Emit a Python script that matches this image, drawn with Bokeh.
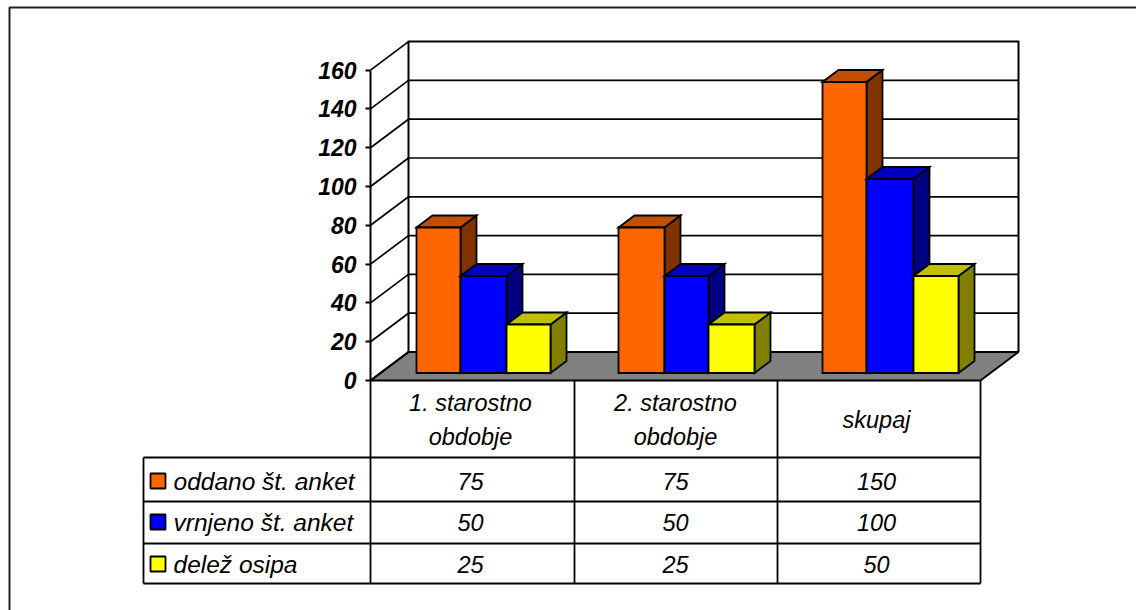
from bokeh.core.properties import value
from bokeh.embed import file_html
from bokeh.models import ColumnDataSource, FixedTicker, Range1d
from bokeh.plotting import figure
from bokeh.resources import INLINE

# Survey counts per age group
categories = ["1. starostno\nobdobje", "2. starostno\nobdobje", "skupaj"]
series_names = ["oddano št. anket", "vrnjeno št. anket", "delež osipa"]
oddano = [75, 75, 150]
vrnjeno = [50, 50, 100]
osip = [25, 25, 50]
y_ticks = [0, 20, 40, 60, 80, 100, 120, 140, 160]

front_colors = ["#FF6600", "#0000FF", "#FFFF00"]
top_colors = ["#C05000", "#0000C0", "#C0C000"]
side_colors = ["#803300", "#000080", "#808000"]

# Page geometry, in pixels
WIDTH, HEIGHT = 1136, 610
ZERO_Y = 380
PX_PER_UNIT = 1.94
AXIS_X = 370
WALL_DX, WALL_DY = 38, 28.5
WALL_RIGHT = 1018
BAR_BASE_Y = 372.5
BAR_DX, BAR_DY = 16, 12
BAR_EDGES = [[416, 460, 506, 550], [618, 664, 708, 754], [822, 866, 913, 958]]
TABLE_COLS = [143, 370, 574, 777, 980]
TABLE_ROWS = [457, 501, 543, 583]
COL_CENTERS = [470, 675, 876]
ROW_CENTERS = [481, 522, 564]
FONT = value("Liberation Sans")
CELL_SIZE = value("23.5px")
NAME_SIZE = value("24.5px")


def v(py):
    """Axis value sitting at pixel row py."""
    return (ZERO_Y - py) / PX_PER_UNIT


p = figure(
    width=WIDTH, height=HEIGHT, output_backend="svg", toolbar_location=None,
    x_range=Range1d(0, WIDTH), y_range=Range1d(v(HEIGHT), v(0)),
    min_border=0, outline_line_color=None, background_fill_color="white",
)
p.grid.visible = False
p.xaxis.visible = False

axis = p.yaxis[0]
axis.fixed_location = AXIS_X
axis.bounds = (y_ticks[0], y_ticks[-1])
axis.ticker = FixedTicker(ticks=y_ticks)
axis.axis_line_color = "black"
axis.axis_line_width = 2
axis.major_tick_line_color = "black"
axis.major_tick_line_width = 2
axis.major_tick_out = 5
axis.major_tick_in = 0
axis.minor_tick_line_color = None
axis.major_label_standoff = 9
axis.major_label_text_font = "Liberation Sans"
axis.major_label_text_font_size = "23px"
axis.major_label_text_font_style = "bold italic"
axis.major_label_text_color = "black"

# Outer frame: only the top and left edges are present
p.line([9, 9, WIDTH], [v(HEIGHT), v(7), v(7)], line_color="#222222", line_width=2)

# Floor, back wall and the gridlines that wrap from the side wall to the back
wall_top = y_ticks[-1]
wall_left = AXIS_X + WALL_DX
lift = WALL_DY / PX_PER_UNIT
p.patch(
    [AXIS_X, wall_left, WALL_RIGHT, TABLE_COLS[-1]],
    [0, lift, lift, 0],
    fill_color="#808080", line_color="black", line_width=2,
)
p.segment(
    x0=[AXIS_X] * len(y_ticks), y0=y_ticks,
    x1=[wall_left] * len(y_ticks), y1=[t + lift for t in y_ticks],
    line_color="black", line_width=1.7,
)
p.segment(
    x0=[wall_left] * len(y_ticks), y0=[t + lift for t in y_ticks],
    x1=[WALL_RIGHT] * len(y_ticks), y1=[t + lift for t in y_ticks],
    line_color="black", line_width=[2 if t in (0, wall_top) else 1.7 for t in y_ticks],
)
p.segment(
    x0=[wall_left, WALL_RIGHT], y0=[lift, lift],
    x1=[wall_left, WALL_RIGHT], y1=[wall_top + lift + 0.5] * 2,
    line_color="black", line_width=2,
)

# Bars as three faces each, painted left to right so neighbours overlap
xs, ys, fills = [], [], []
base = v(BAR_BASE_Y)
rise = BAR_DY / PX_PER_UNIT
for g, edges in enumerate(BAR_EDGES):
    for s, series in enumerate([oddano, vrnjeno, osip]):
        x0, x1 = edges[s], edges[s + 1]
        top = base + series[g]
        xs.append([x1, x1 + BAR_DX, x1 + BAR_DX, x1])
        ys.append([base, base + rise, top + rise, top])
        fills.append(side_colors[s])
        xs.append([x0, x0 + BAR_DX, x1 + BAR_DX, x1])
        ys.append([top, top + rise, top + rise, top])
        fills.append(top_colors[s])
        xs.append([x0, x1, x1, x0])
        ys.append([base, base, top, top])
        fills.append(front_colors[s])
p.patches(
    "xs", "ys", source=ColumnDataSource(dict(xs=xs, ys=ys, fills=fills)),
    fill_color="fills", line_color="black", line_width=1.8, line_join="miter",
)

# Data table under the chart
hx0, hx1, hy0, hy1 = [], [], [], []
for row in TABLE_ROWS:
    hx0.append(TABLE_COLS[0]); hx1.append(TABLE_COLS[-1]); hy0.append(v(row)); hy1.append(v(row))
for col in TABLE_COLS[1:]:
    hx0.append(col); hx1.append(col); hy0.append(0); hy1.append(v(TABLE_ROWS[-1]))
hx0.append(TABLE_COLS[0]); hx1.append(TABLE_COLS[0]); hy0.append(v(TABLE_ROWS[0])); hy1.append(v(TABLE_ROWS[-1]))
p.segment(hx0, hy0, hx1, hy1, line_color="black", line_width=1.8)

text_style = dict(
    text_font=FONT, text_font_style="italic", text_color="black", text_baseline="middle",
)

# Category headers, one or two lines
head_x, head_y, head_text = [], [], []
for center, label in zip(COL_CENTERS, categories):
    parts = label.split("\n")
    rows = [402, 436] if len(parts) == 2 else [419]
    for part, row in zip(parts, rows):
        head_x.append(center); head_y.append(v(row)); head_text.append(part)
p.text(head_x, head_y, text=head_text, text_align="center", text_font_size=CELL_SIZE, **text_style)

# Value cells
cell_x, cell_y, cell_text = [], [], []
for row, series in zip(ROW_CENTERS, [oddano, vrnjeno, osip]):
    for center, val in zip(COL_CENTERS, series):
        cell_x.append(center); cell_y.append(v(row)); cell_text.append(str(val))
p.text(cell_x, cell_y, text=cell_text, text_align="center", text_font_size=CELL_SIZE, **text_style)

# Legend keys and series names in the first column
p.quad(
    left=[150] * 3, right=[165] * 3,
    top=[v(r - 8) for r in ROW_CENTERS], bottom=[v(r + 7) for r in ROW_CENTERS],
    fill_color=front_colors, line_color="black", line_width=1.8,
)
p.text([173] * 3, [v(r) for r in ROW_CENTERS], text=series_names, text_align="left",
       text_font_size=NAME_SIZE, **text_style)

open("out.html", "w").write(file_html(p, INLINE))
